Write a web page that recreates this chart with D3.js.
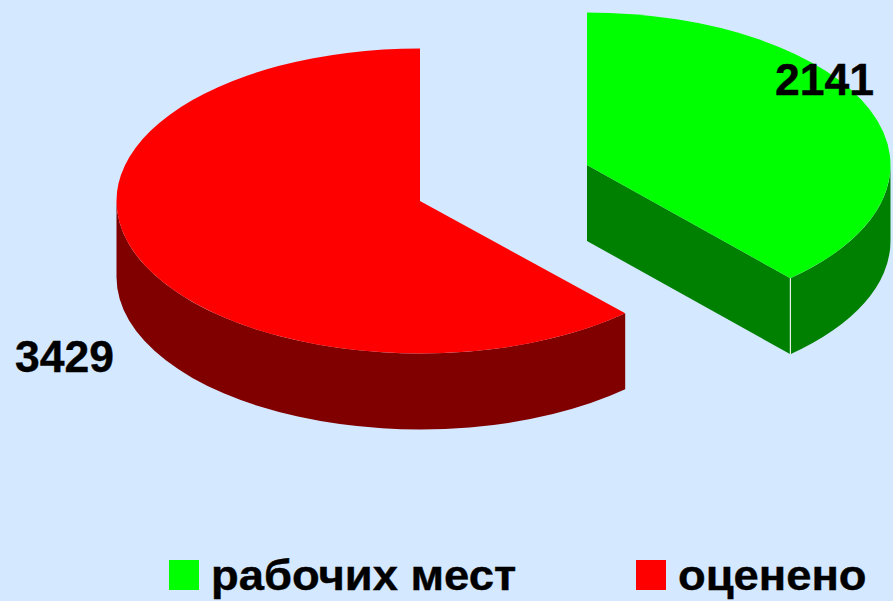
<!DOCTYPE html>
<html>
<head>
<meta charset="utf-8">
<script src="https://cdn.jsdelivr.net/npm/d3@7"></script>
<style>
  html, body { margin: 0; padding: 0; background: #d4e8ff; overflow: hidden; }
  text { font-family: "Liberation Sans", Arial, sans-serif; font-weight: bold; fill: #000; stroke: #000; stroke-width: 0.4; }
</style>
</head>
<body>
<div id="chart"></div>
<script>
const categories = ["рабочих мест", "оценено"];
const values = [2141, 3429];
const topColors = ["#00ff00", "#ff0000"];
const wallColors = ["#008000", "#800000"];

const width = 893;
const height = 601;
const rx = 303.5;
const ry = 152.5;
const depth = 76;
const centers = [[587, 165], [420, 201]];
const labelPos = [[874, 95], [114, 372]];
const legendPos = [[169, 560], [636, 560]];
const legendTextX = [211, 678];
const legendStretch = 1.08;
// the old chart's projection draws the split a bit off
const boundaryNudge = [-0.008, -0.016];

const svg = d3
  .select("#chart")
  .append("svg")
  .attr("width", width)
  .attr("height", height)
  .attr("viewBox", `0 0 ${width} ${height}`)
  .style("display", "block");

const pie = d3.pie().sort(null).startAngle(0).endAngle(2 * Math.PI);
const slices = pie(values);
slices[0].endAngle += boundaryNudge[0];
slices[1].startAngle += boundaryNudge[1];

const arc = d3.arc().innerRadius(0).outerRadius(rx);
const tilt = ry / rx;
const unitDepth = depth / tilt;
const offset = -Math.PI / 2; // d3.arc starts at 12 o'clock, d3.path at 3 o'clock

function pointAt(angle) {
  return [rx * Math.cos(angle + offset), rx * Math.sin(angle + offset)];
}

// outer rim between two angles, extruded downwards
function wallPath(a0, a1) {
  const p = d3.path();
  p.arc(0, 0, rx, a0 + offset, a1 + offset);
  p.arc(0, unitDepth, rx, a1 + offset, a0 + offset, true);
  p.closePath();
  return p.toString();
}

// straight cut face from the centre to the rim
function cutPath(angle) {
  const [x, y] = pointAt(angle);
  const p = d3.path();
  p.moveTo(0, 0);
  p.lineTo(x, y);
  p.lineTo(x, y + unitDepth);
  p.lineTo(0, unitDepth);
  p.closePath();
  return p.toString();
}

const groups = svg
  .selectAll("g.slice")
  .data(slices)
  .enter()
  .append("g")
  .attr("class", "slice")
  .attr("transform", (d, i) => `translate(${centers[i]}) scale(1,${tilt})`);

// only the part of the rim facing the viewer gets a wall
groups
  .append("path")
  .attr("d", (d) =>
    wallPath(Math.max(d.startAngle, Math.PI / 2), Math.min(d.endAngle, (3 * Math.PI) / 2))
  )
  .attr("fill", (d, i) => wallColors[i]);

groups
  .filter((d) => d.endAngle < Math.PI)
  .append("path")
  .attr("d", (d) => cutPath(d.endAngle))
  .attr("fill", (d) => wallColors[d.index]);

groups
  .append("path")
  .attr("d", arc)
  .attr("fill", (d, i) => topColors[i]);

// light edge on the corner of the green block
groups
  .filter((d) => d.endAngle < Math.PI)
  .append("line")
  .attr("x1", (d) => pointAt(d.endAngle)[0])
  .attr("y1", (d) => pointAt(d.endAngle)[1])
  .attr("x2", (d) => pointAt(d.endAngle)[0])
  .attr("y2", (d) => pointAt(d.endAngle)[1] + unitDepth)
  .attr("stroke", "#e8f0e8")
  .attr("stroke-width", 1.2);

svg
  .selectAll("text.value")
  .data(values)
  .enter()
  .append("text")
  .attr("class", "value")
  .attr("x", (d, i) => labelPos[i][0])
  .attr("y", (d, i) => labelPos[i][1])
  .attr("text-anchor", "end")
  .attr("font-size", 44.5)
  .text((d) => d);

svg
  .selectAll("rect.key")
  .data(categories)
  .enter()
  .append("rect")
  .attr("class", "key")
  .attr("x", (d, i) => legendPos[i][0])
  .attr("y", (d, i) => legendPos[i][1])
  .attr("width", 30)
  .attr("height", 30)
  .attr("fill", (d, i) => topColors[i]);

svg
  .selectAll("text.key")
  .data(categories)
  .enter()
  .append("text")
  .attr("class", "key")
  .attr("transform", (d, i) => `translate(${legendTextX[i]},590) scale(${legendStretch},1)`)
  .attr("font-size", 42)
  .text((d) => d);
</script>
</body>
</html>
